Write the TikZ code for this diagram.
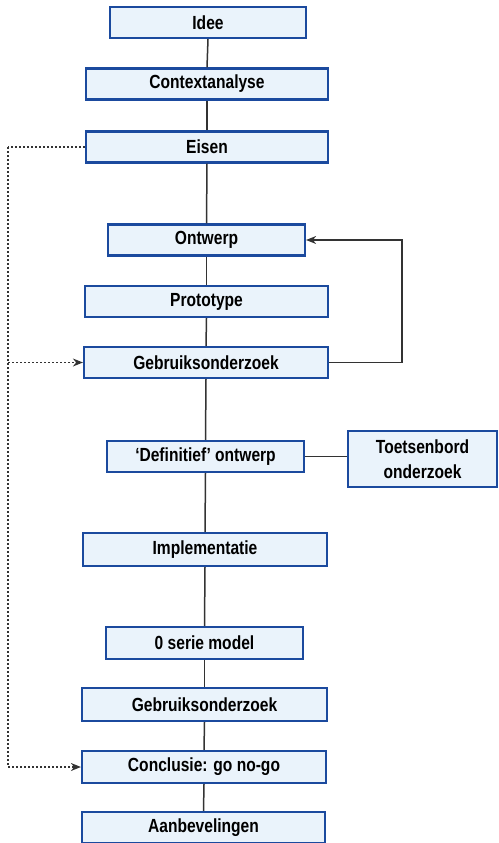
\documentclass[tikz,border=0pt]{standalone}
\usepackage{fontspec}
\setmainfont[FakeStretch=0.82]{Liberation Sans}
\usetikzlibrary{arrows.meta}
\definecolor{boxblue}{HTML}{1B4A9E}
\definecolor{boxfill}{HTML}{EAF3FB}
\definecolor{linegray}{HTML}{333333}
\begin{document}
\begin{tikzpicture}[x=1pt,y=-1pt,
  stepbox/.style={draw=boxblue,line width=2.2pt,fill=boxfill,inner sep=0pt,
    minimum height=31pt,font=\fontsize{19}{25}\selectfont\bfseries,text=black},
  conn/.style={draw=linegray,line width=1.5pt},
  fb/.style={draw=linegray,line width=1.5pt,-{Stealth[length=10pt,width=8pt]}},
  dot/.style={draw=linegray,line width=1.5pt,dash pattern=on 1.5pt off 2.5pt,
    -{Stealth[length=10pt,width=8pt]}},
  dotplain/.style={draw=linegray,line width=1.5pt,dash pattern=on 1.5pt off 2.5pt}]
\useasboundingbox (0,0) rectangle (498,843);
\node[stepbox,minimum width=196pt] (idee) at (208,22.5) {Idee};
\node[stepbox,minimum width=242pt] (context) at (207,84) {Contextanalyse};
\node[stepbox,minimum width=242pt] (eisen) at (207,147) {Eisen};
\node[stepbox,minimum width=197pt] (ontwerp) at (206.5,240) {Ontwerp};
\node[stepbox,minimum width=243pt] (proto) at (206.5,301.5) {Prototype};
\node[stepbox,minimum width=244pt] (gebr1) at (206,362.5) {Gebruiksonderzoek};
\node[stepbox,minimum width=197pt] (defin) at (205.5,456.5) {`Definitief' ontwerp};
\node[stepbox,minimum width=149pt,minimum height=56pt,align=center] (toets) at (422.5,459) {Toetsenbord\\onderzoek};
\node[stepbox,minimum width=244pt,minimum height=33pt] (impl) at (205,549.5) {Implementatie};
\node[stepbox,minimum width=197pt,minimum height=32pt] (serie) at (204.5,643) {0 serie model};
\node[stepbox,minimum width=245pt,minimum height=33pt] (gebr2) at (204.5,704.5) {Gebruiksonderzoek};
\node[stepbox,minimum width=244pt,minimum height=32pt] (concl) at (204,767) {Conclusie: go no-go};
\node[stepbox,minimum width=243pt] (aanb) at (203.5,827.5) {Aanbevelingen};
% main spine
\draw[conn] (idee.south) -- (context.north);
\draw[conn] (context.south) -- (eisen.north);
\draw[conn] (eisen.south) -- (ontwerp.north);
\draw[conn] (ontwerp.south) -- (proto.north);
\draw[conn] (proto.south) -- (gebr1.north);
\draw[conn] (gebr1.south) -- (defin.north);
\draw[conn] (defin.south) -- (impl.north);
\draw[conn] (impl.south) -- (serie.north);
\draw[conn] (serie.south) -- (gebr2.north);
\draw[conn] (gebr2.south) -- (concl.north);
\draw[conn] (concl.south) -- (aanb.north);
% side branch
\draw[conn] (defin.east) -- (toets.west |- defin.east);
% feedback loop
\coordinate (fbc) at (402,300);
\draw[fb] (gebr1.east) -- (gebr1.east -| fbc) |- (ontwerp.east);
% dotted loop
\coordinate (dtop) at (8,147);
\coordinate (dmid) at (8,362.5);
\draw[dotplain] (eisen.west) -- (dtop);
\draw[dot] (dtop) |- (concl.west);
\draw[dot] (dmid) -- (gebr1.west);
\end{tikzpicture}
\end{document}
